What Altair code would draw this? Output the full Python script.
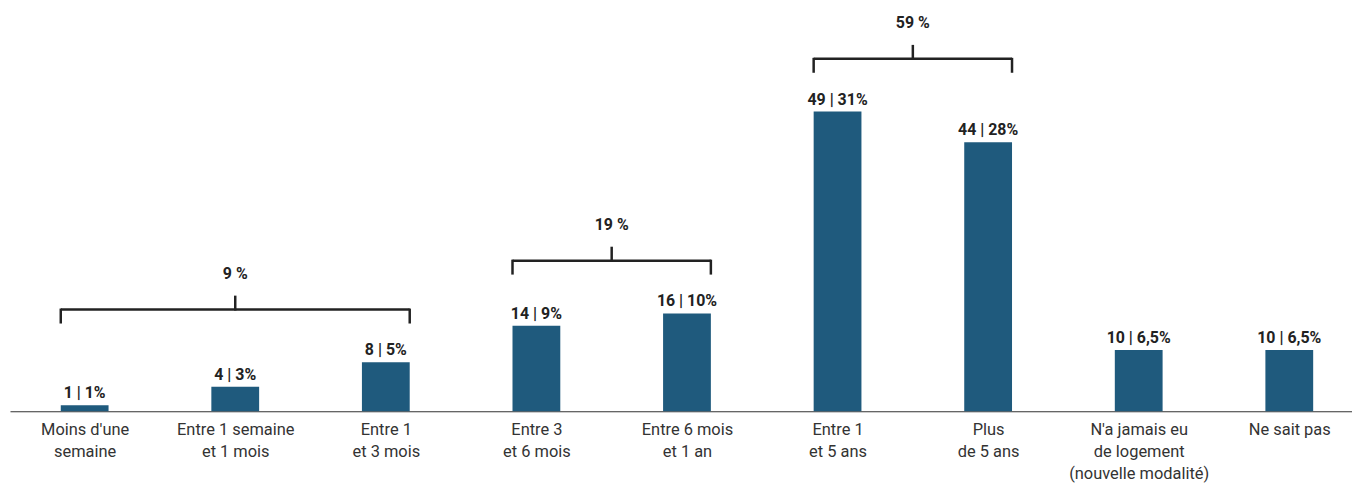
import json
import altair as alt
import pandas as pd

# ---- data ----
label_lines = [
    ["Moins d'une", "semaine"],
    ["Entre 1 semaine", "et 1 mois"],
    ["Entre 1", "et 3 mois"],
    ["Entre 3", "et 6 mois"],
    ["Entre 6 mois", "et 1 an"],
    ["Entre 1", "et 5 ans"],
    ["Plus", "de 5 ans"],
    ["N'a jamais eu", "de logement", "(nouvelle modalité)"],
    ["Ne sait pas"],
]
counts = [1, 4, 8, 14, 16, 49, 44, 10, 10]
percents = ["1%", "3%", "5%", "9%", "10%", "31%", "28%", "6,5%", "6,5%"]

group_labels = ["9 %", "19 %", "59 %"]
group_start = [0, 3, 5]
group_end = [2, 4, 6]

# ---- tables ----
bars = pd.DataFrame({
    "idx": list(range(len(counts))),
    "count": counts,
    "lbl": [f"{c} | {p}" for c, p in zip(counts, percents)],
})
groups = pd.DataFrame({
    "start": group_start,
    "end": group_end,
    "mid": [(s + e) / 2 for s, e in zip(group_start, group_end)],
    "gmax": [max(counts[s:e + 1]) for s, e in zip(group_start, group_end)],
    "glabel": group_labels,
})

FONT = "Roboto, sans-serif"
BAR = "#1F5A7D"
INK = "#222222"

xscale = alt.Scale(domain=[-0.4959, 8.4165], nice=False, zero=False, padding=0)
yscale = alt.Scale(domain=[0, 65.44], nice=False, padding=0)

label_expr = "split(" + json.dumps(["|".join(l) for l in label_lines]) + "[datum.value], '|')"

x_axis = alt.Axis(
    values=list(range(len(counts))),
    labelExpr=label_expr,
    title=None,
    ticks=False,
    grid=False,
    domain=True,
    domainColor="#333333",
    domainWidth=1.2,
    labelFont=FONT,
    labelFontSize=16.5,
    labelColor="#333333",
    labelPadding=10,
    labelLineHeight=22.5,
    labelOverlap=False,
    labelFlush=False,
    labelBaseline="top",
)

base_bars = alt.Chart(bars)

bar_layer = base_bars.mark_bar(width=48, color=BAR).encode(
    x=alt.X("idx:Q", scale=xscale, axis=x_axis),
    y=alt.Y("count:Q", scale=yscale, axis=None),
)

bar_text = base_bars.mark_text(
    font=FONT, fontSize=16, fontWeight="bold", color=INK,
    baseline="alphabetic", dy=-7,
).encode(
    x=alt.X("idx:Q", scale=xscale),
    y=alt.Y("count:Q", scale=yscale),
    text="lbl:N",
)

g = alt.Chart(groups)
rule_style = dict(color=INK, strokeWidth=2.5)

horiz = g.mark_rule(xOffset=-24, x2Offset=24, yOffset=-53, **rule_style).encode(
    x=alt.X("start:Q", scale=xscale),
    x2="end:Q",
    y=alt.Y("gmax:Q", scale=yscale),
)
left_end = g.mark_rule(xOffset=-24, yOffset=-54, y2Offset=-39, **rule_style).encode(
    x=alt.X("start:Q", scale=xscale),
    y=alt.Y("gmax:Q", scale=yscale),
    y2="gmax:Q",
)
right_end = g.mark_rule(xOffset=24, yOffset=-54, y2Offset=-39, **rule_style).encode(
    x=alt.X("end:Q", scale=xscale),
    y=alt.Y("gmax:Q", scale=yscale),
    y2="gmax:Q",
)
tick = g.mark_rule(yOffset=-67, y2Offset=-52, **rule_style).encode(
    x=alt.X("mid:Q", scale=xscale),
    y=alt.Y("gmax:Q", scale=yscale),
    y2="gmax:Q",
)
glabel = g.mark_text(
    font=FONT, fontSize=16, fontWeight="bold", color=INK,
    baseline="middle", yOffset=-89,
).encode(
    x=alt.X("mid:Q", scale=xscale),
    y=alt.Y("gmax:Q", scale=yscale),
    text="glabel:N",
)

chart = alt.layer(bar_layer, bar_text, horiz, left_end, right_end, tick, glabel).properties(
    width=1348,
    height=402,
    autosize=alt.AutoSizeParams(type="none"),
    padding={"left": 2, "top": 2, "right": 0, "bottom": 74},
).configure(
    background="white",
    view=alt.ViewConfig(stroke="transparent", strokeWidth=0),
)

chart.save("out.html", embed_options={"renderer": "svg", "actions": False})
